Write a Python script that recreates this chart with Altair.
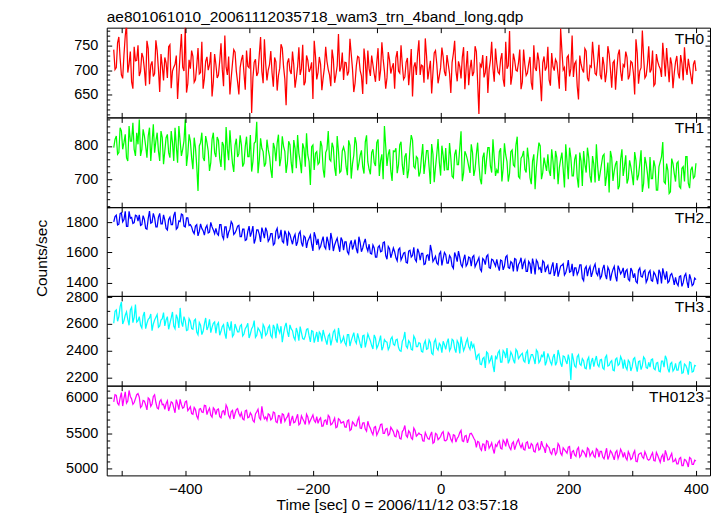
import altair as alt
import pandas as pd

FONT = "Liberation Sans"
TITLE = "ae801061010_20061112035718_wam3_trn_4band_long.qdp"
XTITLE = "Time [sec] 0 = 2006/11/12 03:57:18"
YTITLE = "Counts/sec"

# 2 s light-curve bins, stored as two interleaved sets of 4 s-spaced bins
TIME_A = list(range(-512, 401, 4))
TIME_B = list(range(-510, 399, 4))

TH0_A = [742, 705, 768, 690, 731, 795, 712, 676, 748, 720,
         688, 735, 702, 760, 671, 718, 693, 740, 655, 709,
         726, 684, 752, 698, 712, 641, 735, 706, 790, 672,
         703, 728, 680, 745, 695, 662, 718, 700, 737, 676,
         712, 690, 755, 667, 706, 728, 684, 742, 698, 650,
         721, 693, 740, 705, 612, 716, 688, 732, 697, 763,
         679, 711, 694, 726, 658, 704, 745, 682, 715, 699,
         738, 664, 707, 690, 752, 676, 720, 703, 641, 729,
         695, 712, 684, 748, 701, 667, 722, 690, 774, 706,
         680, 715, 697, 733, 655, 709, 726, 688, 744, 671,
         703, 730, 692, 716, 678, 757, 698, 684, 721, 705,
         662, 739, 694, 711, 686, 725, 700, 646, 716, 733,
         690, 708, 765, 681, 719, 695, 740, 673, 705, 727,
         688, 712, 653, 734, 699, 718, 683, 747, 704, 669,
         721, 696, 738, 610, 707, 685, 729, 701, 758, 676,
         714, 692, 735, 666, 703, 780, 689, 720, 698, 742,
         675, 711, 694, 727, 660, 705, 736, 684, 715, 699,
         748, 668, 707, 722, 691, 785, 700, 657, 730, 703,
         686, 718, 640, 712, 695, 739, 677, 706, 724, 690,
         752, 681, 710, 696, 733, 664, 719, 700, 742, 678,
         707, 726, 689, 715, 650, 735, 698, 781, 684, 712,
         695, 740, 672, 718, 703, 756, 687, 709, 726, 663,
         717, 694, 731, 679, 706, 723, 688, 712, 698]
TH0_B = [701, 756, 724, 683, 770, 695, 738, 662, 719, 751,
         697, 726, 668, 744, 710, 687, 761, 702, 733, 679,
         715, 748, 663, 706, 730, 689, 774, 698, 654, 721,
         740, 675, 709, 692, 758, 683, 727, 711, 646, 733,
         684, 719, 702, 771, 690, 650, 714, 737, 676, 705,
         731, 660, 708, 745, 684, 722, 695, 768, 673, 713,
         700, 739, 666, 717, 689, 753, 707, 628, 724, 692,
         711, 684, 747, 703, 669, 730, 696, 716, 760, 681,
         727, 659, 705, 718, 690, 742, 674, 709, 697, 736,
         716, 689, 764, 702, 673, 728, 699, 651, 719, 740,
         688, 711, 676, 745, 700, 723, 662, 737, 693, 714,
         725, 698, 751, 681, 716, 669, 743, 706, 690, 761,
         710, 674, 729, 701, 652, 735, 713, 688, 746, 697,
         731, 693, 716, 760, 677, 707, 726, 661, 739, 702,
         688, 749, 675, 712, 731, 695, 653, 720, 703, 744,
         696, 722, 681, 758, 709, 670, 734, 700, 715, 661,
         742, 689, 713, 674, 751, 698, 719, 636, 728, 706,
         680, 735, 699, 716, 662, 740, 705, 726, 687, 771,
         713, 667, 730, 701, 744, 684, 709, 758, 693, 719,
         690, 727, 675, 749, 702, 715, 660, 732, 697, 711,
         738, 681, 718, 694, 763, 672, 705, 727, 689, 749,
         701, 668, 733, 709, 686, 722, 745, 675, 712, 694,
         729, 683, 714, 747, 690, 705, 671, 720]

TH1_A = [795, 830, 780, 845, 810, 765, 860, 815, 790, 840,
         880, 790, 830, 765, 855, 810, 780, 840, 755, 825,
         785, 835, 765, 810, 855, 750, 815, 790, 880, 775,
         815, 730, 795, 665, 810, 765, 830, 785, 750, 840,
         767, 817, 737, 802, 857, 757, 792, 722, 822, 777,
         803, 748, 828, 768, 723, 808, 873, 758, 793, 738,
         819, 769, 704, 794, 809, 739, 829, 784, 749, 804,
         718, 793, 833, 753, 808, 738, 773, 683, 803, 778,
         745, 815, 730, 780, 845, 755, 795, 710, 785, 725,
         797, 737, 817, 702, 772, 807, 747, 787, 717, 832,
         730, 780, 750, 810, 710, 775, 860, 740, 790, 695,
         783, 718, 803, 743, 768, 703, 793, 818, 733, 763,
         721, 806, 751, 786, 686, 776, 736, 821, 711, 771,
         794, 729, 764, 704, 789, 744, 844, 719, 774, 739,
         805, 710, 775, 745, 685, 780, 760, 795, 720, 765,
         728, 783, 693, 808, 753, 718, 788, 738, 828, 703,
         770, 730, 795, 705, 755, 670, 775, 800, 720, 745,
         775, 710, 755, 785, 685, 760, 730, 805, 700, 765,
         710, 775, 675, 755, 785, 720, 765, 690, 745, 805,
         695, 745, 775, 710, 660, 765, 725, 755, 680, 790,
         737, 687, 757, 712, 782, 697, 747, 662, 767, 717,
         767, 702, 737, 667, 752, 812, 687, 727, 662, 747,
         693, 753, 673, 738, 768, 688, 728, 703, 748]
TH1_B = [820, 775, 855, 790, 835, 755, 815, 870, 770, 805,
         770, 850, 800, 830, 755, 865, 815, 785, 845, 745,
         825, 780, 845, 755, 800, 860, 770, 815, 740, 835,
         765, 825, 740, 800, 840, 755, 810, 725, 820, 780,
         827, 762, 812, 727, 792, 847, 747, 802, 767, 832,
         738, 798, 768, 833, 753, 813, 718, 823, 783, 748,
         789, 729, 809, 754, 834, 764, 799, 719, 814, 749,
         818, 733, 778, 718, 793, 838, 753, 798, 728, 783,
         750, 800, 705, 790, 760, 810, 735, 830, 720, 785,
         782, 712, 802, 747, 827, 727, 772, 737, 812, 752,
         715, 790, 740, 820, 755, 700, 800, 775, 725, 785,
         793, 743, 813, 713, 778, 728, 833, 738, 768, 708,
         766, 716, 786, 736, 806, 691, 776, 751, 801, 726,
         729, 809, 709, 774, 744, 794, 694, 784, 759, 719,
         780, 730, 810, 700, 765, 715, 795, 740, 820, 710,
         718, 793, 733, 773, 693, 783, 743, 803, 708, 763,
         785, 720, 760, 685, 775, 735, 810, 700, 765, 725,
         725, 790, 700, 765, 735, 780, 675, 755, 795, 710,
         760, 705, 780, 680, 745, 795, 710, 770, 690, 740,
         720, 770, 680, 750, 785, 695, 745, 670, 760, 710,
         772, 702, 737, 682, 757, 712, 787, 687, 747, 672,
         702, 757, 667, 737, 767, 692, 747, 657, 762, 717,
         748, 678, 733, 693, 768, 673, 738, 708]

TH2_A = [1803, 1848, 1788, 1863, 1818, 1773, 1873, 1833, 1798, 1843,
         1850, 1785, 1820, 1755, 1875, 1800, 1830, 1770, 1860, 1790,
         1815, 1750, 1835, 1785, 1870, 1765, 1805, 1850, 1770, 1830,
         1785, 1740, 1775, 1710, 1790, 1745, 1765, 1730, 1800, 1750,
         1760, 1715, 1785, 1690, 1770, 1735, 1805, 1720, 1750, 1780,
         1705, 1755, 1685, 1775, 1735, 1660, 1750, 1720, 1765, 1695,
         1740, 1690, 1725, 1660, 1760, 1705, 1675, 1745, 1645, 1720,
         1655, 1720, 1670, 1740, 1640, 1700, 1675, 1715, 1610, 1705,
         1690, 1640, 1705, 1625, 1670, 1730, 1610, 1675, 1645, 1700,
         1615, 1670, 1590, 1680, 1650, 1625, 1705, 1605, 1665, 1635,
         1655, 1590, 1630, 1570, 1645, 1610, 1670, 1555, 1625, 1595,
         1605, 1545, 1630, 1570, 1600, 1530, 1615, 1580, 1555, 1625,
         1550, 1595, 1525, 1585, 1650, 1540, 1575, 1520, 1605, 1560,
         1585, 1530, 1565, 1495, 1575, 1610, 1520, 1555, 1510, 1570,
         1510, 1580, 1525, 1565, 1475, 1550, 1575, 1500, 1555, 1530,
         1555, 1480, 1545, 1510, 1580, 1495, 1530, 1560, 1475, 1535,
         1490, 1550, 1475, 1525, 1560, 1455, 1535, 1500, 1545, 1470,
         1515, 1460, 1535, 1480, 1440, 1510, 1525, 1465, 1550, 1475,
         1443, 1498, 1473, 1518, 1413, 1508, 1488, 1438, 1503, 1463,
         1498, 1443, 1518, 1423, 1483, 1458, 1508, 1408, 1488, 1473,
         1432, 1487, 1412, 1477, 1462, 1397, 1497, 1437, 1482, 1422,
         1480, 1410, 1455, 1390, 1465, 1495, 1420, 1400, 1450, 1430,
         1435, 1380, 1445, 1400, 1460, 1365, 1425, 1390, 1420]
TH2_B = [1838, 1783, 1858, 1803, 1873, 1773, 1828, 1793, 1848, 1808,
         1780, 1845, 1760, 1825, 1795, 1860, 1770, 1835, 1790, 1850,
         1760, 1820, 1785, 1845, 1755, 1810, 1855, 1775, 1830, 1780,
         1770, 1725, 1785, 1740, 1760, 1715, 1780, 1735, 1770, 1725,
         1725, 1785, 1710, 1770, 1695, 1755, 1790, 1730, 1775, 1705,
         1755, 1680, 1740, 1705, 1775, 1690, 1750, 1670, 1735, 1765,
         1675, 1725, 1650, 1740, 1695, 1750, 1665, 1720, 1735, 1685,
         1700, 1645, 1725, 1665, 1710, 1630, 1695, 1655, 1735, 1650,
         1625, 1675, 1640, 1705, 1615, 1685, 1650, 1695, 1605, 1680,
         1670, 1605, 1655, 1620, 1685, 1595, 1665, 1630, 1690, 1610,
         1595, 1650, 1570, 1635, 1605, 1665, 1580, 1640, 1565, 1630,
         1565, 1620, 1550, 1595, 1535, 1610, 1570, 1635, 1540, 1600,
         1595, 1520, 1580, 1545, 1610, 1555, 1530, 1590, 1515, 1600,
         1530, 1580, 1510, 1600, 1540, 1570, 1505, 1585, 1525, 1565,
         1570, 1505, 1545, 1490, 1560, 1520, 1585, 1495, 1550, 1510,
         1510, 1550, 1485, 1570, 1500, 1540, 1475, 1555, 1520, 1565,
         1530, 1475, 1540, 1460, 1520, 1550, 1490, 1465, 1535, 1500,
         1460, 1505, 1445, 1530, 1475, 1515, 1450, 1500, 1470, 1525,
         1498, 1453, 1518, 1428, 1493, 1443, 1508, 1468, 1523, 1448,
         1428, 1493, 1453, 1503, 1413, 1488, 1443, 1513, 1458, 1498,
         1477, 1422, 1497, 1432, 1407, 1482, 1442, 1472, 1402, 1467,
         1415, 1470, 1430, 1485, 1395, 1455, 1475, 1410, 1460, 1385,
         1395, 1440, 1375, 1445, 1405, 1455, 1380, 1430]

TH3_A = [2605, 2705, 2655, 2765, 2625, 2690, 2590, 2725, 2650, 2615,
         2655, 2570, 2690, 2605, 2645, 2550, 2630, 2670, 2585, 2640,
         2585, 2655, 2605, 2690, 2565, 2640, 2720, 2580, 2625, 2555,
         2620, 2560, 2635, 2520, 2590, 2545, 2645, 2580, 2535, 2605,
         2530, 2610, 2545, 2595, 2490, 2580, 2620, 2520, 2570, 2540,
         2595, 2525, 2580, 2495, 2565, 2625, 2515, 2555, 2490, 2575,
         2528, 2588, 2498, 2568, 2603, 2533, 2463, 2578, 2543, 2593,
         2550, 2480, 2535, 2580, 2490, 2510, 2565, 2465, 2545, 2500,
         2465, 2525, 2555, 2480, 2510, 2440, 2540, 2485, 2570, 2460,
         2505, 2440, 2520, 2475, 2535, 2455, 2490, 2420, 2515, 2470,
         2498, 2438, 2518, 2418, 2473, 2403, 2483, 2463, 2428, 2503,
         2440, 2485, 2400, 2470, 2540, 2420, 2460, 2405, 2490, 2430,
         2455, 2390, 2475, 2415, 2460, 2370, 2485, 2405, 2440, 2470,
         2410, 2490, 2420, 2475, 2385, 2455, 2505, 2400, 2465, 2430,
         2470, 2445, 2330, 2375, 2295, 2350, 2390, 2310, 2365, 2240,
         2340, 2400, 2315, 2385, 2420, 2330, 2370, 2305, 2395, 2355,
         2380, 2315, 2400, 2335, 2370, 2300, 2390, 2325, 2355, 2290,
         2380, 2315, 2350, 2290, 2405, 2305, 2360, 2325, 2370, 2180,
         2335, 2275, 2370, 2290, 2325, 2265, 2350, 2315, 2280, 2360,
         2280, 2335, 2260, 2365, 2290, 2325, 2250, 2345, 2300, 2330,
         2333, 2258, 2313, 2278, 2348, 2243, 2323, 2288, 2338, 2268,
         2277, 2337, 2257, 2312, 2242, 2322, 2362, 2267, 2302, 2247,
         2305, 2255, 2320, 2235, 2290, 2220, 2310, 2245, 2285]
TH3_B = [2695, 2620, 2730, 2600, 2665, 2635, 2705, 2610, 2745, 2625,
         2590, 2660, 2565, 2635, 2675, 2600, 2650, 2575, 2630, 2685,
         2630, 2560, 2645, 2585, 2670, 2570, 2615, 2655, 2550, 2640,
         2565, 2625, 2540, 2610, 2520, 2600, 2555, 2635, 2575, 2615,
         2595, 2515, 2580, 2530, 2615, 2550, 2505, 2600, 2540, 2585,
         2510, 2565, 2605, 2525, 2580, 2500, 2570, 2535, 2595, 2515,
         2573, 2513, 2593, 2493, 2558, 2583, 2528, 2608, 2503, 2563,
         2500, 2570, 2475, 2535, 2485, 2560, 2510, 2550, 2460, 2540,
         2540, 2470, 2515, 2445, 2525, 2485, 2555, 2460, 2510, 2475,
         2460, 2520, 2435, 2505, 2475, 2530, 2450, 2510, 2425, 2525,
         2473, 2413, 2493, 2438, 2513, 2428, 2468, 2408, 2488, 2448,
         2480, 2425, 2395, 2490, 2435, 2475, 2410, 2510, 2430, 2460,
         2395, 2450, 2410, 2480, 2380, 2465, 2420, 2455, 2385, 2445,
         2460, 2400, 2485, 2415, 2475, 2380, 2450, 2425, 2490, 2410,
         2425, 2395, 2365, 2300, 2340, 2270, 2380, 2330, 2290, 2355,
         2385, 2315, 2400, 2345, 2305, 2390, 2330, 2410, 2340, 2370,
         2325, 2385, 2300, 2370, 2340, 2405, 2310, 2365, 2395, 2320,
         2350, 2295, 2375, 2315, 2365, 2280, 2355, 2300, 2325, 2380,
         2285, 2355, 2300, 2340, 2270, 2330, 2260, 2345, 2325, 2295,
         2330, 2270, 2350, 2285, 2315, 2255, 2335, 2290, 2355, 2265,
         2278, 2328, 2248, 2338, 2288, 2318, 2258, 2353, 2273, 2313,
         2332, 2267, 2307, 2247, 2322, 2277, 2337, 2237, 2312, 2262,
         2255, 2310, 2230, 2300, 2265, 2315, 2240, 2290]

TH0123_A = [5945, 6035, 5900, 6075, 5995, 5925, 6105, 5985, 5935, 6045,
            6010, 5885, 5955, 5830, 5980, 5915, 6045, 5860, 5950, 5905,
            5840, 5960, 5875, 5930, 5790, 5915, 5980, 5855, 5945, 5820,
            5875, 5770, 5835, 5705, 5850, 5795, 5890, 5820, 5755, 5860,
            5765, 5845, 5720, 5820, 5900, 5750, 5805, 5705, 5835, 5780,
            5790, 5690, 5825, 5730, 5760, 5660, 5805, 5720, 5880, 5705,
            5685, 5760, 5710, 5790, 5650, 5745, 5775, 5670, 5735, 5605,
            5745, 5660, 5770, 5640, 5705, 5625, 5730, 5680, 5760, 5655,
            5640, 5720, 5605, 5690, 5755, 5620, 5670, 5580, 5705, 5645,
            5665, 5585, 5690, 5555, 5640, 5605, 5725, 5570, 5650, 5530,
            5605, 5520, 5585, 5475, 5560, 5630, 5500, 5570, 5490, 5555,
            5460, 5545, 5430, 5525, 5610, 5445, 5510, 5415, 5540, 5480,
            5485, 5395, 5510, 5425, 5475, 5360, 5500, 5410, 5455, 5525,
            5395, 5510, 5415, 5480, 5375, 5455, 5540, 5385, 5470, 5425,
            5500, 5430, 5300, 5375, 5260, 5345, 5395, 5290, 5365, 5215,
            5315, 5395, 5280, 5375, 5425, 5300, 5355, 5270, 5385, 5340,
            5350, 5265, 5380, 5290, 5335, 5235, 5360, 5280, 5320, 5225,
            5315, 5230, 5280, 5200, 5355, 5220, 5295, 5245, 5305, 5140,
            5255, 5175, 5300, 5190, 5240, 5160, 5275, 5215, 5180, 5285,
            5165, 5245, 5140, 5290, 5180, 5230, 5125, 5255, 5195, 5235,
            5230, 5125, 5200, 5150, 5255, 5100, 5215, 5165, 5240, 5135,
            5140, 5225, 5110, 5190, 5090, 5200, 5260, 5125, 5175, 5100,
            5140, 5070, 5160, 5045, 5120, 5025, 5145, 5060, 5110]
TH0123_B = [6045, 5925, 6000, 5885, 6085, 5955, 6020, 5910, 5990, 6060,
            5865, 5965, 5900, 6000, 5880, 6020, 5935, 5845, 5975, 5910,
            5920, 5815, 5945, 5860, 5975, 5835, 5905, 5870, 5955, 5845,
            5780, 5865, 5745, 5840, 5800, 5895, 5765, 5855, 5730, 5835,
            5835, 5735, 5810, 5755, 5860, 5715, 5825, 5780, 5850, 5740,
            5705, 5815, 5720, 5790, 5680, 5775, 5840, 5695, 5765, 5730,
            5775, 5690, 5800, 5665, 5750, 5635, 5765, 5710, 5790, 5685,
            5650, 5715, 5620, 5745, 5670, 5770, 5640, 5720, 5680, 5735,
            5695, 5600, 5680, 5620, 5730, 5635, 5715, 5590, 5690, 5655,
            5590, 5675, 5540, 5660, 5605, 5685, 5575, 5645, 5560, 5670,
            5570, 5480, 5595, 5515, 5625, 5500, 5560, 5470, 5585, 5525,
            5450, 5520, 5420, 5550, 5470, 5535, 5435, 5575, 5460, 5505,
            5480, 5390, 5465, 5415, 5520, 5375, 5485, 5430, 5505, 5400,
            5415, 5485, 5380, 5470, 5430, 5510, 5395, 5460, 5365, 5495,
            5470, 5400, 5385, 5290, 5350, 5250, 5385, 5320, 5280, 5340,
            5370, 5290, 5405, 5315, 5355, 5270, 5380, 5330, 5415, 5300,
            5275, 5365, 5290, 5355, 5245, 5335, 5265, 5390, 5295, 5345,
            5300, 5205, 5285, 5230, 5325, 5190, 5270, 5220, 5315, 5240,
            5195, 5275, 5165, 5260, 5210, 5295, 5180, 5245, 5160, 5265,
            5245, 5165, 5215, 5130, 5255, 5180, 5230, 5145, 5275, 5160,
            5155, 5240, 5130, 5215, 5105, 5200, 5225, 5145, 5195, 5120,
            5190, 5115, 5230, 5140, 5170, 5095, 5200, 5130, 5215, 5110,
            5070, 5145, 5045, 5130, 5085, 5160, 5060, 5120]

X_DOMAIN = [-523, 422]
X_LABELS = [-400, -200, 0, 200, 400]
X_TICKS = [-500, -400, -300, -200, -100, 0, 100, 200, 300, 400]

# name, values (A, B), colour, y-domain, labelled ticks, minor ticks
PANELS = [
    ("TH0", TH0_A, TH0_B, "#ff0000", [603, 787], [650, 700, 750],
     [610, 620, 630, 640, 660, 670, 680, 690, 710, 720, 730, 740, 760, 770, 780]),
    ("TH1", TH1_A, TH1_B, "#00ff00", [616, 886], [700, 800],
     [620, 640, 660, 680, 720, 740, 760, 780, 820, 840, 860, 880]),
    ("TH2", TH2_A, TH2_B, "#0000ff", [1312, 1901], [1400, 1600, 1800], [1500, 1700, 1900]),
    ("TH3", TH3_A, TH3_B, "#00ffff", [2138, 2810], [2200, 2400, 2600, 2800], [2300, 2500, 2700]),
    ("TH0123", TH0123_A, TH0123_B, "#ff00ff", [4906, 6173], [5000, 5500, 6000],
     [5100, 5200, 5300, 5400, 5600, 5700, 5800, 5900, 6100]),
]
HEIGHTS = [90, 90, 89, 90, 90]
W = 605


def tick_axis(orient, values, size):
    return alt.Axis(orient=orient, values=values, tickSize=size, offset=-size,
                    labels=False, domain=False, grid=False, title=None,
                    tickColor="black", tickWidth=1, zindex=2)


def panel(i):
    name, va, vb, color, ydom, major, minor = PANELS[i]
    h = HEIGHTS[i]
    bottom = i == len(PANELS) - 1
    df = pd.DataFrame({"t": TIME_A + TIME_B, "v": va + vb}).sort_values("t")
    one = df.iloc[:1]
    xs = alt.Scale(domain=X_DOMAIN, nice=False, zero=False)
    ys = alt.Scale(domain=ydom, nice=False, zero=False)

    yargs = dict(orient="left", values=major, ticks=False, tickSize=0, domain=False,
                 grid=False, labelPadding=9, labelOverlap=False, format="d",
                 labelFontSize=14.5)
    if name == "TH2":
        yaxis = alt.Axis(title=YTITLE, titleX=-65, titleY=51, titleAngle=270,
                         titleAlign="center", titleBaseline="middle", **yargs)
    else:
        yaxis = alt.Axis(title=None, **yargs)

    if bottom:
        xaxis = alt.Axis(orient="bottom", values=X_LABELS, ticks=False, tickSize=0,
                         domain=False, grid=False, labelPadding=6, labelFlush=False,
                         labelOverlap=False, format="d", title=XTITLE, titleX=291,
                         titleY=34, titleAlign="center", titleBaseline="alphabetic")
        xenc = alt.X("t:Q", scale=xs, axis=xaxis)
    else:
        xenc = alt.X("t:Q", scale=xs, axis=None)

    line = alt.Chart(df).mark_line(color=color, strokeWidth=1.25, clip=True).encode(
        x=xenc, y=alt.Y("v:Q", scale=ys, axis=yaxis))

    lmaj = alt.Chart(one).mark_point(opacity=0).encode(
        x=alt.X("t:Q", scale=xs, axis=tick_axis("bottom", X_TICKS, 5)),
        y=alt.Y("v:Q", scale=ys, axis=tick_axis("left", major, 5)))
    lmin = alt.Chart(one).mark_point(opacity=0).encode(
        x=alt.X("t:Q", scale=xs, axis=tick_axis("top", X_TICKS, 5)),
        y=alt.Y("v:Q", scale=ys, axis=tick_axis("left", minor, 3)))
    rmaj = alt.Chart(one).mark_point(opacity=0).encode(
        x=alt.X("t:Q", scale=xs, axis=None),
        y=alt.Y("v:Q", scale=ys, axis=tick_axis("right", major, 5)))
    rmin = alt.Chart(one).mark_point(opacity=0).encode(
        x=alt.X("t:Q", scale=xs, axis=None),
        y=alt.Y("v:Q", scale=ys, axis=tick_axis("right", minor, 3)))
    txt = alt.Chart(pd.DataFrame({"name": [name]})).mark_text(
        align="right", baseline="alphabetic", font=FONT, fontSize=15.5, color="black"
    ).encode(x=alt.value(W - 6), y=alt.value(16), text="name:N")

    ch = alt.layer(line, lmaj, lmin, rmaj, rmin, txt).resolve_axis(
        x="independent", y="independent").properties(width=W, height=h)
    if i == 0:
        ch = ch.properties(title=alt.TitleParams(
            text=TITLE, anchor="start", frame="group", font=FONT, fontSize=15.5,
            fontWeight="normal", color="black", offset=2))
    return ch


chart = alt.vconcat(*[panel(i) for i in range(len(PANELS))], spacing=0,
                    bounds="flush").properties(
    padding={"left": 26, "top": 0, "right": 5, "bottom": 5}
).configure_view(stroke="black", strokeWidth=1).configure_axis(
    labelFont=FONT, labelFontSize=15, labelColor="black",
    titleFont=FONT, titleFontSize=15.5, titleColor="black", titleFontWeight="normal")

chart.save("out.html", embed_options={"renderer": "svg", "actions": False})
